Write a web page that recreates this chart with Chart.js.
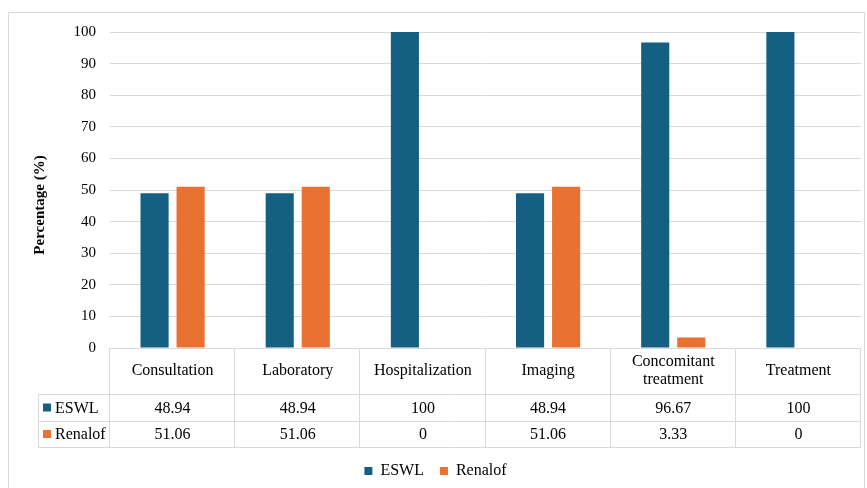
<!DOCTYPE html>
<html>
<head>
<meta charset="utf-8">
<script src="https://cdn.jsdelivr.net/npm/chart.js@4"></script>
<style>
  body { margin: 0; background: #fff; }
  #wrap { width: 867px; height: 488px; position: relative; }
</style>
</head>
<body>
<div id="wrap"><canvas id="costChart"></canvas></div>
<script>
var categories = ['Consultation', 'Laboratory', 'Hospitalization', 'Imaging', ['Concomitant', 'treatment'], 'Treatment'];
var eswlValues = [48.94, 48.94, 100, 48.94, 96.67, 100];
var renalofValues = [51.06, 51.06, 0, 51.06, 3.33, 0];
var eswlText = ['48.94', '48.94', '100', '48.94', '96.67', '100'];
var renalofText = ['51.06', '51.06', '0', '51.06', '3.33', '0'];

var blue = '#156082';
var orange = '#E97132';
var lineGrey = '#d9d9d9';
var serif = "'Liberation Serif', 'Times New Roman', serif";

// frame + y title + data table under the bars
var tablePlugin = {
  id: 'dataTable',
  afterDraw: function(chart) {
    var ctx = chart.ctx;
    var area = chart.chartArea;
    var x = chart.scales.x;
    var colW = (area.right - area.left) / categories.length;
    var top = area.bottom;
    var headBottom = top + 46;
    var row1 = headBottom + 27;
    var row2 = row1 + 26;
    var tableLeft = 38;

    ctx.save();
    // outer frame
    ctx.strokeStyle = lineGrey;
    ctx.lineWidth = 1;
    ctx.strokeRect(8.5, 12.5, 856, 490);

    // grid of the table
    ctx.beginPath();
    ctx.moveTo(area.left, top + 0.5); ctx.lineTo(area.right, top + 0.5);
    [headBottom, row1, row2].forEach(function(y) {
      ctx.moveTo(tableLeft, y + 0.5); ctx.lineTo(area.right, y + 0.5);
    });
    ctx.moveTo(tableLeft + 0.5, headBottom); ctx.lineTo(tableLeft + 0.5, row2);
    for (var i = 0; i <= categories.length; i++) {
      var bx = Math.round(area.left + i * colW) - 0.5;
      ctx.moveTo(bx, top); ctx.lineTo(bx, row2);
    }
    ctx.stroke();

    // header labels + values
    ctx.fillStyle = '#000';
    ctx.font = '16px ' + serif;
    ctx.textAlign = 'center';
    ctx.textBaseline = 'middle';
    categories.forEach(function(c, i) {
      var cx = x.getPixelForValue(i);
      var mid = (top + headBottom) / 2;
      if (Array.isArray(c)) {
        ctx.fillText(c[0], cx, mid - 9);
        ctx.fillText(c[1], cx, mid + 9);
      } else {
        ctx.fillText(c, cx, mid);
      }
      ctx.fillText(eswlText[i], cx, (headBottom + row1) / 2 + 1);
      ctx.fillText(renalofText[i], cx, (row1 + row2) / 2 + 1);
    });

    // row labels with keys
    ctx.textAlign = 'left';
    ctx.fillStyle = blue;
    ctx.fillRect(43, (headBottom + row1) / 2 - 4, 8, 8);
    ctx.fillStyle = orange;
    ctx.fillRect(43, (row1 + row2) / 2 - 4, 8, 8);
    ctx.fillStyle = '#000';
    ctx.fillText('ESWL', 55, (headBottom + row1) / 2 + 1);
    ctx.fillText('Renalof', 55, (row1 + row2) / 2 + 1);

    // y axis title
    ctx.translate(40, 205);
    ctx.rotate(-Math.PI / 2);
    ctx.textAlign = 'center';
    ctx.font = 'bold 15px ' + serif;
    ctx.fillText('Percentage (%)', 0, 0);
    ctx.restore();
  }
};

var ctx = document.getElementById('costChart').getContext('2d');
var chart = new Chart(ctx, {
  type: 'bar',
  data: {
    labels: categories,
    datasets: [{
      label: 'ESWL',
      data: eswlValues,
      backgroundColor: blue
    }, {
      label: 'Renalof',
      data: renalofValues,
      backgroundColor: orange
    }]
  },
  options: {
    responsive: true,
    maintainAspectRatio: false,
    animation: false,
    categoryPercentage: 0.576,
    barPercentage: 0.78,
    layout: {
      padding: { left: 10, right: 6, top: 32, bottom: -1 }
    },
    scales: {
      x: {
        ticks: { display: false },
        grid: { display: false },
        border: { display: false },
        afterFit: function(scale) { scale.height = 99; }
      },
      y: {
        min: 0,
        max: 100,
        ticks: {
          stepSize: 10,
          padding: 14,
          color: '#000',
          font: { family: serif, size: 15 }
        },
        grid: { color: lineGrey, drawTicks: false },
        border: { display: false },
        afterFit: function(scale) { scale.width = 100; }
      }
    },
    plugins: {
      legend: {
        position: 'bottom',
        labels: {
          boxWidth: 8,
          boxHeight: 8,
          padding: 16,
          color: '#000',
          font: { family: serif, size: 16 }
        }
      },
      tooltip: { enabled: false }
    }
  },
  plugins: [tablePlugin]
});
</script>
</body>
</html>
